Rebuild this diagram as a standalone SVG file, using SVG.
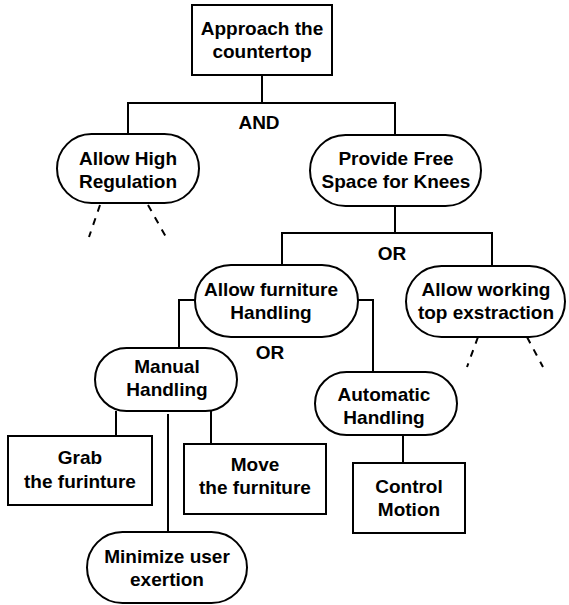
<svg xmlns="http://www.w3.org/2000/svg" width="569" height="605" viewBox="0 0 569 605">
<style>
.box{fill:#fff;stroke:#000;stroke-width:2}
.c{fill:none;stroke:#000;stroke-width:2}
.d{fill:none;stroke:#000;stroke-width:2;stroke-dasharray:7 7}
text{font-family:"Liberation Sans",Arial,sans-serif;font-weight:bold;font-size:19px;text-anchor:middle;fill:#000}
</style>
<rect width="569" height="605" fill="#fff"/>
<g id="connectors">
<path class="c" d="M262,75V103M128,134V103H395V135"/>
<path class="c" d="M395,206V233M282,265V233H492V266"/>
<path class="c" d="M196,300H179V348M357,300H373V372"/>
<path class="c" d="M116,411V436M168,414V532M211,411V444"/>
<path class="c" d="M403,435V463"/>
<path class="d" d="M100,205L89,237M148,205L166,237"/>
<path class="d" d="M478,337L467,367M527,337L543,367"/>
</g>
<g id="labels">
<text x="259" y="129">AND</text>
<text x="392" y="260">OR</text>
<text x="270" y="359">OR</text>
</g>
<g id="approach">
<rect class="box" x="192" y="5" width="140" height="70"/>
<text x="262" y="35">Approach the</text>
<text x="262" y="58">countertop</text>
</g>
<g id="high-regulation">
<rect class="box" x="57" y="134" width="142" height="69" rx="34.5"/>
<text x="128" y="165">Allow High</text>
<text x="128" y="188">Regulation</text>
</g>
<g id="free-space">
<rect class="box" x="310" y="135" width="171" height="71" rx="35.5"/>
<text x="396" y="165">Provide Free</text>
<text x="396" y="188">Space for Knees</text>
</g>
<g id="furniture-handling">
<rect class="box" x="195" y="265" width="163" height="72" rx="36"/>
<text x="271" y="296">Allow furniture</text>
<text x="271" y="319">Handling</text>
</g>
<g id="top-extraction">
<rect class="box" x="406" y="266" width="159" height="71" rx="35.5"/>
<text x="486" y="296">Allow working</text>
<text x="486" y="319">top exstraction</text>
</g>
<g id="manual">
<rect class="box" x="95" y="348" width="142" height="63" rx="31.5"/>
<text x="167" y="373">Manual</text>
<text x="167" y="396">Handling</text>
</g>
<g id="automatic">
<rect class="box" x="315" y="372" width="142" height="63" rx="31.5"/>
<text x="384" y="401">Automatic</text>
<text x="384" y="424">Handling</text>
</g>
<g id="grab">
<rect class="box" x="8" y="436" width="144" height="69"/>
<text x="80" y="464">Grab</text>
<text x="80" y="488">the furinture</text>
</g>
<g id="move">
<rect class="box" x="184" y="444" width="142" height="70"/>
<text x="255" y="471">Move</text>
<text x="255" y="494">the furniture</text>
</g>
<g id="control">
<rect class="box" x="353" y="463" width="112" height="70"/>
<text x="409" y="493">Control</text>
<text x="409" y="516">Motion</text>
</g>
<g id="minimize">
<rect class="box" x="87" y="532" width="160" height="71" rx="35.5"/>
<text x="167" y="563">Minimize user</text>
<text x="167" y="586">exertion</text>
</g>
</svg>
